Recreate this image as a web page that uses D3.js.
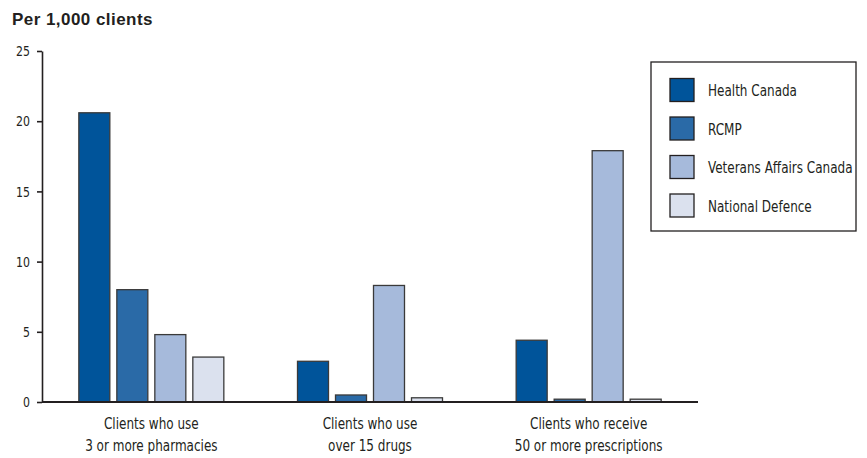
<!DOCTYPE html>
<html>
<head>
<meta charset="utf-8">
<script src="https://cdn.jsdelivr.net/npm/d3@7"></script>
<style>
  body { margin: 0; background: #fff; }
  svg { display: block; }
  .cond { font-family: "DejaVu Sans Condensed", "Liberation Sans Narrow", sans-serif; }
</style>
</head>
<body>
<svg id="chart" width="867" height="458"></svg>
<script>
// Rates of use per 1,000 clients, by department
const categories = [
  ["Clients who use", "3 or more pharmacies"],
  ["Clients who use", "over 15 drugs"],
  ["Clients who receive", "50 or more prescriptions"]
];
const seriesNames = ["Health Canada", "RCMP", "Veterans Affairs Canada", "National Defence"];
const healthCanada = [20.6, 2.9, 4.4];
const rcmp = [8.0, 0.5, 0.2];
const veteransAffairs = [4.8, 8.3, 17.9];
const nationalDefence = [3.2, 0.3, 0.2];
const yTicks = [0, 5, 10, 15, 20, 25];

const seriesValues = [healthCanada, rcmp, veteransAffairs, nationalDefence];
const colors = ["#00549a", "#2a6aa7", "#a6badb", "#dbe1ee"];

// horizontal squeeze applied to the condensed face so it reads like a narrow gothic
const tickSqueeze = 0.84;
const labelSqueeze = 0.81;

const svg = d3.select("#chart");
const plotLeft = 42, plotRight = 698, plotTop = 51, plotBottom = 402;

const x0 = d3.scaleBand().domain(d3.range(categories.length)).range([plotLeft, plotRight]).padding(0);
const x1 = d3.scaleBand().domain(d3.range(seriesNames.length))
  .range([-76, 76]).paddingInner(7 / 38).paddingOuter(3.5 / 38);
const y = d3.scaleLinear().domain([0, 25]).range([plotBottom, plotTop]);

// Title
svg.append("text")
  .attr("x", 12).attr("y", 25)
  .attr("font-family", "Liberation Sans, Arial, sans-serif")
  .attr("font-weight", "bold").attr("font-size", 17)
  .attr("letter-spacing", 0.45)
  .attr("fill", "#231f20")
  .text("Per 1,000 clients");

// Bars
const groups = svg.append("g").selectAll("g")
  .data(categories)
  .join("g")
  .attr("transform", (d, i) => `translate(${x0(i) + x0.bandwidth() / 2},0)`);

groups.selectAll("rect")
  .data((d, i) => seriesValues.map((vals, s) => ({ s, v: vals[i] })))
  .join("rect")
  .attr("x", d => x1(d.s))
  .attr("width", x1.bandwidth())
  .attr("y", d => y(d.v))
  .attr("height", d => y(0) - y(d.v))
  .attr("fill", d => colors[d.s])
  .attr("stroke", "#3a3a3a")
  .attr("stroke-width", 1.3);

// Y axis
const yAxis = svg.append("g")
  .attr("transform", `translate(${plotLeft},0)`)
  .call(d3.axisLeft(y).tickValues(yTicks).tickSize(5).tickPadding(7).tickSizeOuter(0));
yAxis.select(".domain").attr("stroke", "#231f20").attr("stroke-width", 1.6);
yAxis.selectAll(".tick line").attr("stroke", "#231f20").attr("stroke-width", 1.6);
yAxis.selectAll(".tick text")
  .attr("class", "cond")
  .attr("font-size", 14.5).attr("fill", "#231f20")
  .attr("transform", `translate(-12,0) scale(${tickSqueeze},1) translate(12,0)`);

// X baseline
svg.append("line")
  .attr("x1", plotLeft).attr("x2", plotRight)
  .attr("y1", y(0)).attr("y2", y(0))
  .attr("stroke", "#231f20").attr("stroke-width", 1.8);

// Category labels
const catLabels = svg.append("g").selectAll("g")
  .data(categories)
  .join("g")
  .attr("transform", (d, i) => `translate(${x0(i) + x0.bandwidth() / 2},429)`)
  .append("text")
  .attr("class", "cond")
  .attr("text-anchor", "middle")
  .attr("font-size", 16.5).attr("fill", "#231f20")
  .attr("transform", `scale(${labelSqueeze},1)`);
catLabels.selectAll("tspan")
  .data(d => d)
  .join("tspan")
  .attr("x", 0)
  .attr("dy", (d, i) => i === 0 ? 0 : 22)
  .text(d => d);

// Legend
const legend = svg.append("g");
legend.append("rect")
  .attr("x", 651).attr("y", 62).attr("width", 205).attr("height", 169)
  .attr("fill", "#fff").attr("stroke", "#231f20").attr("stroke-width", 1.3);
const items = legend.selectAll("g.item")
  .data(seriesNames)
  .join("g")
  .attr("class", "item")
  .attr("transform", (d, i) => `translate(670,${78.5 + i * 38.5})`);
items.append("rect")
  .attr("width", 24).attr("height", 23)
  .attr("fill", (d, i) => colors[i])
  .attr("stroke", "#231f20").attr("stroke-width", 1.3);
items.append("g")
  .attr("transform", `translate(38,17.5) scale(${labelSqueeze},1)`)
  .append("text")
  .attr("class", "cond")
  .attr("font-size", 16.5).attr("fill", "#231f20")
  .text(d => d);
</script>
</body>
</html>
